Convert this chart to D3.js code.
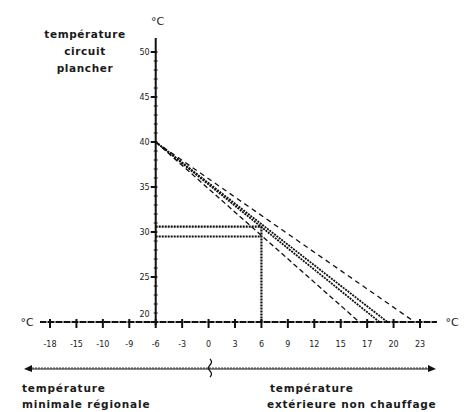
<!DOCTYPE html>
<html><head><meta charset="utf-8">
<script src="https://cdn.jsdelivr.net/npm/d3@7"></script>
<style>html,body{margin:0;padding:0;background:#fff}svg{display:block}text{font-family:"DejaVu Sans",sans-serif;fill:#1a1a1a}</style>
</head><body><svg id="c" width="468" height="412"></svg>
<script>
// ---- data ----
const xTickValues = [-18,-15,-12,-9,-6,-3,0,3,6,9,12,15,18,21,24];
const xTickLabels = ["-18","-15","-10","-9","-6","-3","0","3","6","9","12","15","17","20","23"];
const yTickValues = [20,25,30,35,40,45,50];
const startPoint = {x:-6, y:40};
const lineEnds = [17.1, 19.4, 20.3, 23.4];          // exterior temp where circuit temp reaches 20
const lineStyles = ["lowest","mid","mid","top"];
const designExterior = 6;
const hLevels = [30.6, 29.5];
const titleLines = ["température","circuit","plancher"];
const leftNote = ["température","minimale régionale"];
const rightNote = ["température","extérieure non chauffage"];

const svg = d3.select("#c");
const x = d3.scaleLinear().domain([-18,24]).range([50,420]);
const y = d3.scaleLinear().domain([20,50]).range([322,52]);
const ink = "#111";

// y axis
const yAxisX = x(-6);
svg.append("line").attr("x1",yAxisX).attr("x2",yAxisX).attr("y1",38).attr("y2",325)
  .attr("stroke",ink).attr("stroke-width",2);
svg.append("g").selectAll("line").data(d3.range(20,51,1)).join("line")
  .attr("x1",yAxisX-2).attr("x2",yAxisX+2).attr("y1",d=>y(d)).attr("y2",d=>y(d))
  .attr("stroke",ink).attr("stroke-width",1);
svg.append("g").selectAll("line").data(yTickValues).join("line")
  .attr("x1",yAxisX-5).attr("x2",yAxisX+1).attr("y1",d=>y(d)).attr("y2",d=>y(d))
  .attr("stroke",ink).attr("stroke-width",2);
svg.append("g").selectAll("text").data(yTickValues).join("text")
  .attr("x",d=>yAxisX-6).attr("y",d=>d===20?y(d)-5:y(d)+3)
  .attr("text-anchor","end").attr("font-size",8).text(d=>d);

// x axis
const xAxisY = y(20);
svg.append("line").attr("x1",40).attr("x2",437).attr("y1",xAxisY).attr("y2",xAxisY)
  .attr("stroke",ink).attr("stroke-width",2).attr("stroke-dasharray","6,2");
svg.append("line").attr("x1",40).attr("x2",437).attr("y1",xAxisY).attr("y2",xAxisY)
  .attr("stroke",ink).attr("stroke-width",1);
svg.append("g").selectAll("line").data(xTickValues).join("line")
  .attr("x1",d=>x(d)).attr("x2",d=>x(d)).attr("y1",xAxisY-3).attr("y2",xAxisY+6)
  .attr("stroke",ink).attr("stroke-width",2);
svg.append("g").selectAll("text").data(xTickValues).join("text")
  .attr("x",d=>x(d)).attr("y",xAxisY+25).attr("text-anchor","middle")
  .attr("font-size",8).attr("fill","#333").text((d,i)=>xTickLabels[i]);

// °C labels
svg.append("text").attr("x",yAxisX+2).attr("y",25).attr("text-anchor","middle").attr("font-size",11).text("°C");
svg.append("text").attr("x",27).attr("y",xAxisY+4).attr("text-anchor","middle").attr("font-size",11).text("°C");
svg.append("text").attr("x",452).attr("y",xAxisY+4).attr("text-anchor","middle").attr("font-size",11).text("°C");

// heating lines
const dash = {lowest:"5,3", mid:"2,1", top:"5,4"};
const width = {lowest:1.3, mid:1.8, top:1.3};
svg.append("g").selectAll("line").data(lineEnds).join("line")
  .attr("x1",x(startPoint.x)).attr("y1",y(startPoint.y))
  .attr("x2",d=>x(d)).attr("y2",y(20))
  .attr("stroke",ink)
  .attr("stroke-width",(d,i)=>width[lineStyles[i]])
  .attr("stroke-dasharray",(d,i)=>dash[lineStyles[i]]);

// design point box
svg.append("g").selectAll("line").data(hLevels).join("line")
  .attr("x1",yAxisX).attr("x2",x(designExterior)).attr("y1",d=>y(d)).attr("y2",d=>y(d))
  .attr("stroke",ink).attr("stroke-width",2.2).attr("stroke-dasharray","2,1");
svg.append("line").attr("x1",x(designExterior)).attr("x2",x(designExterior))
  .attr("y1",y(d3.max(hLevels))).attr("y2",xAxisY)
  .attr("stroke",ink).attr("stroke-width",2.2).attr("stroke-dasharray","2,1");

// bottom scale bar
const barY = 369;
svg.append("line").attr("x1",28).attr("x2",432).attr("y1",barY).attr("y2",barY)
  .attr("stroke",ink).attr("stroke-width",1.2);
svg.append("g").selectAll("line").data(d3.range(30,431,3)).join("line")
  .attr("x1",d=>d).attr("x2",d=>d).attr("y1",barY-2).attr("y2",barY)
  .attr("stroke",ink).attr("stroke-width",0.8);
svg.append("path").attr("d",`M24,${barY} L32,${barY-4} L32,${barY+3} Z`).attr("fill",ink);
svg.append("path").attr("d",`M436,${barY} L428,${barY-4} L428,${barY+3} Z`).attr("fill",ink);
svg.append("path").attr("d",`M210,${barY-10} q3,3 0,6 q-3,3 0,6 q3,3 0,6`).attr("fill","none")
  .attr("stroke",ink).attr("stroke-width",1.2);

// texts
svg.append("text").attr("font-size",10.5).attr("font-weight","bold").attr("text-anchor","middle")
  .attr("letter-spacing",0.6)
  .selectAll("tspan").data(titleLines).join("tspan").attr("x",85).attr("y",(d,i)=>38+i*17).text(d=>d);
svg.append("text").attr("font-size",10.5).attr("font-weight","bold").attr("letter-spacing",0.8)
  .selectAll("tspan").data(leftNote).join("tspan").attr("x",22).attr("y",(d,i)=>392+i*16).text(d=>d);
svg.append("text").attr("font-size",10.5).attr("font-weight","bold").attr("letter-spacing",0.8)
  .selectAll("tspan").data(rightNote).join("tspan").attr("x",(d,i)=>i===0?270:267).attr("y",(d,i)=>392+i*16).text(d=>d);
</script></body></html>
